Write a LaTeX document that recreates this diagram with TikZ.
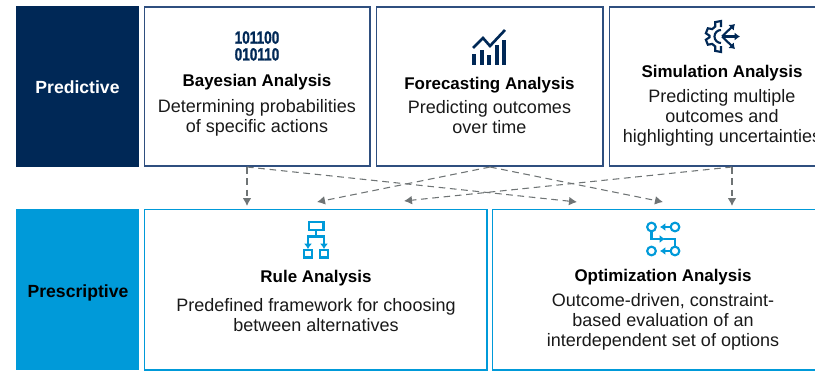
\documentclass[tikz,border=0pt]{standalone}
\usepackage{fontspec}
\setmainfont{Liberation Sans}
\newfontfamily\bitsfont[FakeBold=1.5]{Liberation Sans Bold}
\usepackage{xcolor}
\usepackage{graphicx}
\usetikzlibrary{arrows.meta}
\definecolor{navy}{HTML}{002856}
\definecolor{sky}{HTML}{009AD9}
\definecolor{navyline}{HTML}{2F4F7F}
\definecolor{dashgray}{HTML}{6F7475}
\tikzset{
  sidebox/.style={anchor=center,text=white,font=\bfseries\fontsize{13.2}{15}\selectfont},
  cardtitle/.style={anchor=center,text=black,font=\bfseries\fontsize{12.7}{14}\selectfont},
  cardtext/.style={anchor=center,align=center,text=black!90,font=\fontsize{13.5}{15}\selectfont},
  link/.style={draw=dashgray,line width=0.8pt,dash pattern=on 5pt off 3.5pt,-{Latex[length=6pt,width=6.5pt]}},
  iconline/.style={line width=1.6pt},
  iconarrow/.style={line width=1.6pt,-{Latex[length=4pt,width=6pt]}}
}
\begin{document}
\begin{tikzpicture}[x=0.75pt,y=-0.75pt]
\useasboundingbox (0,0) rectangle (815,382);
\clip (0,0) rectangle (815,382);

% side labels
\fill[navy] (16,6) rectangle (139,167);
\fill[sky] (16,209) rectangle (139,370);
\node[sidebox] (pred) at (77.5,87) {Predictive};
\node[sidebox,text=black] (pres) at (78,292.5) {Prescriptive};

% upper cards
\draw[navyline,line width=1pt] (144.5,7) rectangle (370,166);
\draw[navyline,line width=1pt] (376.5,7) rectangle (603,166);
\draw[navyline,line width=1pt] (609.5,7) rectangle (830,166);

% lower cards
\draw[sky,line width=1pt] (144.5,209.5) rectangle (487,370);
\draw[sky,line width=1pt] (492.5,209.5) rectangle (830,370);

% bayesian
\node[anchor=center,text=navy,font=\bitsfont\fontsize{10.2}{12.6}\selectfont,align=center] (bits) at (257,46) {\scalebox{1}[1.3]{101100}\\\scalebox{1}[1.3]{010110}};
\node[cardtitle] (bayes) at (257,82) {Bayesian Analysis};
\node[cardtext] (bayestxt) at (257,118) {Determining probabilities\\of specific actions};

% forecasting
\begin{scope}[navy,iconline]
\draw[line width=2.4pt] (474,64.5) -- (474,54);
\draw[line width=2.4pt] (482,64.5) -- (482,50);
\draw[line width=2.4pt] (489,64.5) -- (489,55);
\draw[line width=2.4pt] (497,64.5) -- (497,45);
\draw[line width=2.4pt] (504,64.5) -- (504,40);
\draw[line width=2pt] (473,48) -- (483,38) -- (490,46) -- (505,30);
\end{scope}
\node[cardtitle] (fore) at (489.5,85) {Forecasting Analysis};
\node[cardtext] (foretxt) at (489.5,117) {Predicting outcomes\\over time};

% simulation
\begin{scope}[navy,iconline]
\begin{scope}[shift={(721,36.5)}]
\draw (90:9.5) -- (90:15.5) -- (112:15.5) -- (120:11.5) -- (140:11.5) -- (148:15.5) -- (168:15.5) -- (176:11.5) -- (184:11.5) -- (192:15.5) -- (212:15.5) -- (220:11.5) -- (240:11.5) -- (248:15.5) -- (270:15.5) -- (270:9.5);
\draw (0,6.5) arc (90:270:6.5);
\end{scope}
\coordinate (gearmid) at (722,36.5);
\coordinate (gearup) at (735,24);
\coordinate (gearright) at (740,36.5);
\coordinate (geardown) at (735,49);
\draw[iconarrow] (gearmid) -- (gearup);
\draw[iconarrow] (gearmid) -- (gearright);
\draw[iconarrow] (gearmid) -- (geardown);
\end{scope}
\node[cardtitle] (simu) at (722,73) {Simulation Analysis};
\node[cardtext] (simutxt) at (722,118) {Predicting multiple\\outcomes and\\highlighting uncertainties};

% rule
\begin{scope}[sky,iconline]
\draw (309,222) rectangle (323.5,230);
\draw (316,230) -- (316,236.5);
\coordinate (ruleleft) at (308,249);
\coordinate (ruleright) at (324,249);
\draw[iconarrow] (316,236.5) -| (ruleleft);
\draw[iconarrow] (316,236.5) -| (ruleright);
\draw (304,250) rectangle (312,257.5);
\draw (320,250) rectangle (328,257.5);
\end{scope}
\node[cardtitle] (rule) at (316,278) {Rule Analysis};
\node[cardtext] (ruletxt) at (316,315) {Predefined framework for choosing\\between alternatives};

% optimization
\begin{scope}[sky,iconline]
\node[draw,circle,inner sep=0pt,minimum size=6.5pt] (c1) at (651.5,227) {};
\node[draw,circle,inner sep=0pt,minimum size=6.5pt] (c2) at (675,227) {};
\node[draw,circle,inner sep=0pt,minimum size=6.5pt] (c3) at (651.5,251) {};
\node[draw,circle,inner sep=0pt,minimum size=6.5pt] (c4) at (675,251) {};
\coordinate (a1) at (660,227);
\coordinate (a2) at (660,251);
\coordinate (a3) at (665,239);
\draw[iconarrow] (c2) -- (a1);
\draw[iconarrow] (c4) -- (a2);
\draw[iconarrow] (c1) |- (a3);
\draw (664,239) -| (c4);
\end{scope}
\node[cardtitle] (opti) at (663,277) {Optimization Analysis};
\node[cardtext] (optitxt) at (663,322) {Outcome-driven, constraint-\\based evaluation of an\\interdependent set of options};

% links
\coordinate (ba) at (247,167);
\coordinate (fa) at (490,167);
\coordinate (sa) at (732,167);
\coordinate (r1) at (247,206);
\coordinate (r2) at (317,202);
\coordinate (r3) at (404,201);
\coordinate (o1) at (577,202);
\coordinate (o2) at (663,202);
\coordinate (o3) at (732,206);
\draw[link] (ba) -- (r1);
\draw[link] (ba) -- (o1);
\draw[link] (fa) -- (r2);
\draw[link] (fa) -- (o2);
\draw[link] (sa) -- (r3);
\draw[link] (sa) -- (o3);
\end{tikzpicture}
\end{document}
